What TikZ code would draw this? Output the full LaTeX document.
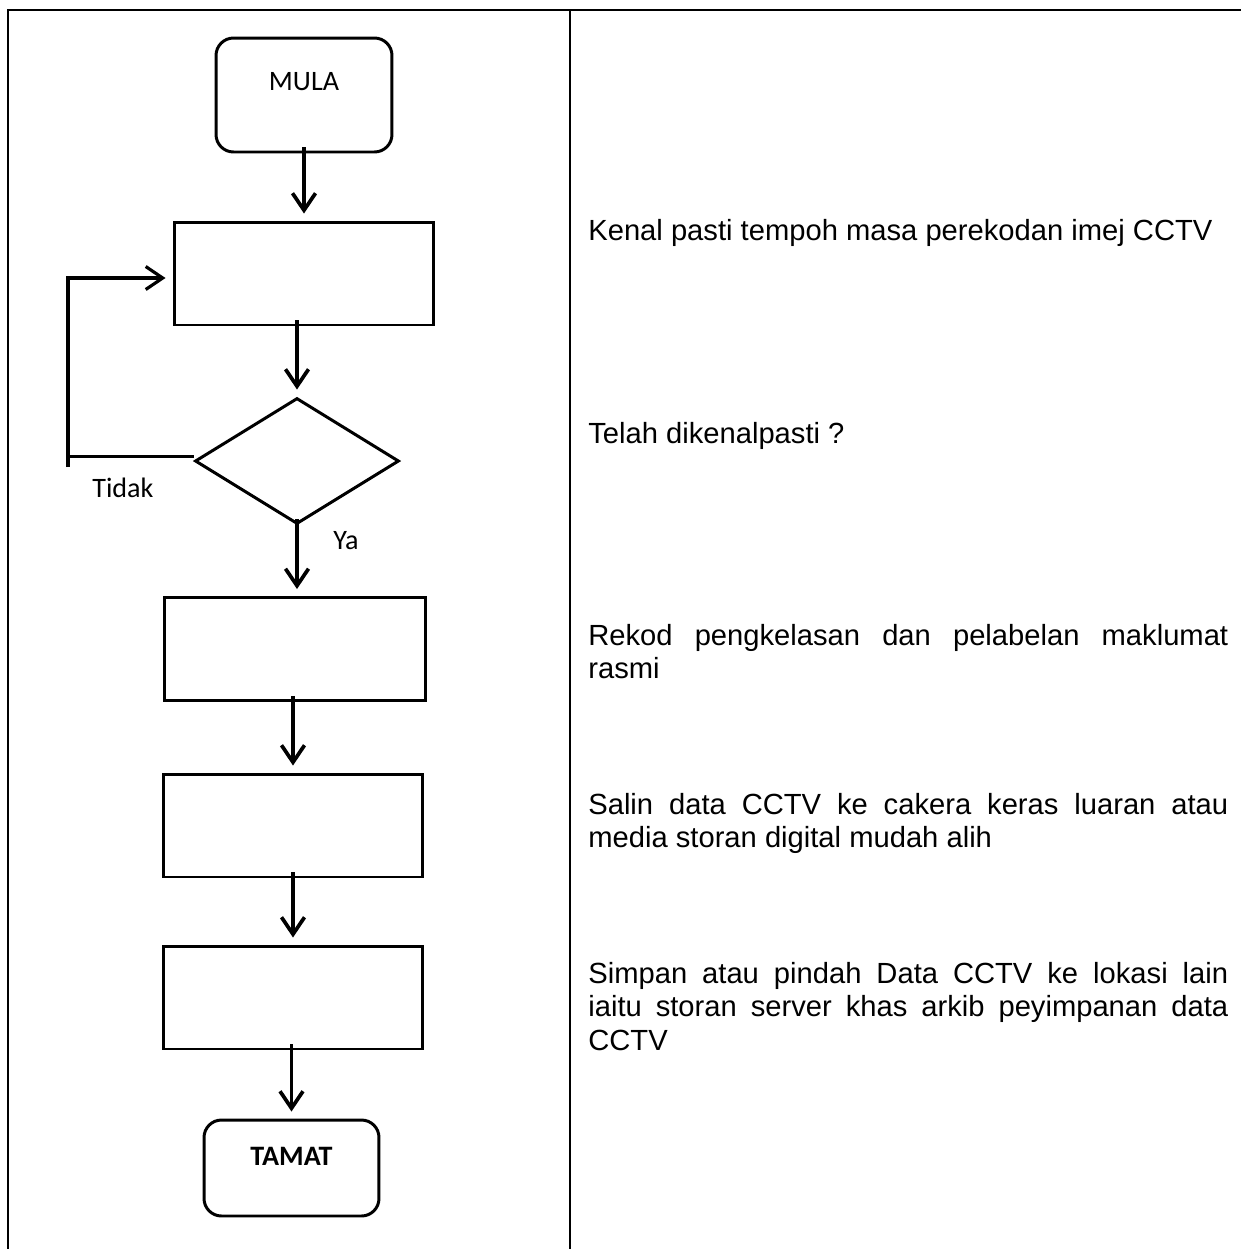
\documentclass[tikz,border=0pt]{standalone}
\usepackage{fontspec}
\setmainfont{Liberation Sans}
\newfontfamily\carlito{Carlito}
\usetikzlibrary{shapes.geometric,arrows.meta}

\begin{document}
\begin{tikzpicture}[x=0.02cm,y=-0.02cm,
    rule/.style={line width=1.2pt},
    stepbox/.style={draw,line width=1.7pt,inner sep=0pt,minimum height=2.06cm},
    endbox/.style={draw,line width=1.7pt,rounded corners=0.35cm,inner sep=0pt,
      font=\carlito\fontsize{16}{19}\selectfont},
    flowarrow/.style={line width=2.1pt,-{Straight Barb[length=0.34cm,width=0.46cm]},
      shorten >=0.14cm,shorten <=-0.12cm},
    answer/.style={anchor=base west,inner sep=0pt,font=\carlito\fontsize{16}{19}\selectfont},
    desc/.style={anchor=base west,inner sep=0pt,text width=12.8cm,align=justify,
      font=\fontsize{16.6}{19.2}\selectfont}]
  \useasboundingbox (0,0) rectangle (1241,1249);

  \draw [rule] (7,10) -- (1241,10);
  \draw [rule] (8,10) -- (8,1249);
  \draw [rule] (570,10) -- (570,1249);

  \node [endbox,minimum width=3.52cm,text height=1.04cm,text depth=1.24cm]
    (mula) at (304,95) {MULA};
  \node [stepbox,minimum width=5.2cm] (box1) at (304,273.5) {};
  \node [diamond,draw,line width=1.7pt,inner sep=0pt,minimum width=4.08cm,
    minimum height=2.52cm] (check) at (297,461) {};
  \node [stepbox,minimum width=5.24cm] (box2) at (295,649) {};
  \node [stepbox,minimum width=5.2cm] (box3) at (293,825.5) {};
  \node [stepbox,minimum width=5.2cm] (box4) at (293,997.5) {};
  \node [endbox,minimum width=3.5cm,text height=0.9cm,text depth=1.02cm]
    (tamat) at (291.5,1168) {\bfseries TAMAT};

  \draw [flowarrow] (mula.south -| box1.north) -- (box1.north);
  \draw [flowarrow] (box1.south -| check.north) -- (check.north);
  \draw [flowarrow] (check.south) -- (check.south |- box2.north);
  \draw [flowarrow] (box2.south -| box3.north) -- (box3.north);
  \draw [flowarrow] (box3.south -| box4.north) -- (box4.north);
  \draw [flowarrow] (box4.south -| tamat.north) -- (tamat.north);

  \coordinate (loopfoot) at (68,467);
  \coordinate (loopjoin) at ([yshift=0.1cm]check.west);
  \draw [line width=1.7pt] (loopjoin) -- (loopjoin -| loopfoot);
  \draw [flowarrow,line width=1.8pt,shorten <=0pt] (loopfoot) |- ([yshift=-0.09cm]box1.west);

  \node [answer] (tidak) at (92,497) {Tidak};
  \node [answer] (ya) at (333,549) {Ya};

  \node [desc] (t1) at (588,240) {Kenal pasti tempoh masa perekodan imej CCTV};
  \node [desc] (t2) at (588,443) {Telah dikenalpasti ?};
  \node [desc] (t3) at (588,645) {Rekod pengkelasan dan pelabelan maklumat\linebreak rasmi};
  \node [desc] (t4) at (588,814) {Salin data CCTV ke cakera keras luaran atau\linebreak
    media storan digital mudah alih};
  \node [desc] (t5) at (588,983) {Simpan atau pindah Data CCTV ke lokasi lain\linebreak
    iaitu storan server khas arkib peyimpanan data\linebreak CCTV};
\end{tikzpicture}
\end{document}
